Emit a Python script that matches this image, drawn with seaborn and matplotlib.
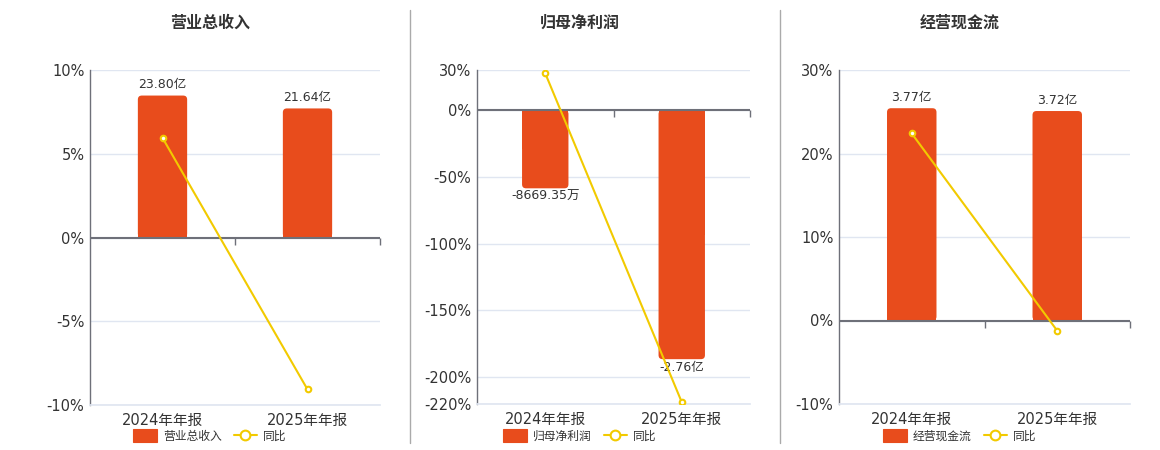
import matplotlib
matplotlib.use('Agg')
import matplotlib.pyplot as plt
import seaborn as sns
from matplotlib.patches import FancyBboxPatch, Patch
from matplotlib.lines import Line2D

periods = ['2024年年报', '2025年年报']

# 单位: 亿元 / 同比 %
revenue = [23.80, 21.64]
revenue_yoy = [5.95, -9.07]
revenue_text = ['23.80亿', '21.64亿']

profit = [-0.866935, -2.76]
profit_yoy = [27.5, -218.6]
profit_text = ['-8669.35万', '-2.76亿']

cashflow = [3.77, 3.72]
cashflow_yoy = [22.4, -1.23]
cashflow_text = ['3.77亿', '3.72亿']

titles = ['营业总收入', '归母净利润', '经营现金流']
yoy_ticks = [
    [-10, -5, 0, 5, 10],
    [-220, -200, -150, -100, -50, 0, 30],
    [-10, 0, 10, 20, 30],
]

BAR_RED = '#E84C1C'
LINE_YELLOW = '#F2CA00'
GRID = '#E0E6F1'
AXIS = '#6E7079'
TEXT = '#333333'
HEADROOM = 1.18

sns.set_theme(style='white')
plt.rcParams['font.family'] = ['DejaVu Sans', 'Noto Sans CJK SC']

fig = plt.figure(figsize=(11.6, 4.5), dpi=100)
W, H = 1160, 450

# axes rectangles in pixels: left, right, top, bottom
boxes = [(90, 380, 70, 405), (477, 750, 70, 404), (839, 1130, 70, 404)]
centers = [210, 580, 960]

panels = [
    (revenue, revenue_yoy, revenue_text),
    (profit, profit_yoy, profit_text),
    (cashflow, cashflow_yoy, cashflow_text),
]

for i, ((vals, yoy, texts), (l, r, t, b)) in enumerate(zip(panels, boxes)):
    ax = fig.add_axes([l / W, 1 - b / H, (r - l) / W, (b - t) / H])
    ticks = yoy_ticks[i]
    lo, hi = min(ticks), max(ticks)
    ax.set_ylim(lo, hi)
    ax.set_yticks(ticks)
    ax.set_yticklabels([f'{v}%' for v in ticks])
    ax.yaxis.grid(True, color=GRID, linewidth=1)
    ax.set_axisbelow(True)
    for s in ['top', 'right']:
        ax.spines[s].set_visible(False)
    ax.spines['left'].set_color(AXIS)
    ax.spines['left'].set_linewidth(1)
    ax.spines['bottom'].set_color(GRID)
    ax.tick_params(axis='both', length=0, labelsize=10.5, colors=TEXT)
    ax.tick_params(axis='y', pad=4)
    ax.tick_params(axis='x', pad=6)

    # bar axis: zero aligned with 0%, largest bar at HEADROOM share of the range side
    ax2 = ax.twinx()
    m = max(abs(v) for v in vals) * HEADROOM
    scale = m / hi if max(vals) > 0 else m / -lo
    sns.barplot(x=periods, y=vals, ax=ax2, color=BAR_RED, width=0.34,
                saturation=1, linewidth=0)
    ax2.set_ylim(lo * scale, hi * scale)
    for rect, txt in zip(ax2.containers[0], texts):
        v = rect.get_y() + rect.get_height()
        up = rect.get_height() > 0
        ax2.annotate(txt, (rect.get_x() + rect.get_width() / 2, v),
                     xytext=(0, 3 if up else -1), textcoords='offset points',
                     ha='center', va='bottom' if up else 'top',
                     fontsize=9, color=TEXT)
    ax2.set_xlim(-0.5, len(periods) - 0.5)
    ax2.axis('off')

    # rounded corners on the outer end of each bar
    xpp = len(periods) / (r - l)
    ypp = (hi - lo) * scale / (b - t)
    rad = 4 * xpp
    for rect in list(ax2.patches):
        x0, y0, w, h = rect.get_x(), rect.get_y(), rect.get_width(), rect.get_height()
        ylo = min(y0, y0 + h)
        fb = FancyBboxPatch((x0, ylo), w, abs(h),
                            boxstyle=f'round,pad=0,rounding_size={rad}',
                            mutation_aspect=ypp / xpp,
                            facecolor=BAR_RED, edgecolor='none')
        ax2.add_patch(fb)
        rect.set_height(h / 2)

    # line axis
    ax3 = ax.twinx()
    ax3.axhline(0, color=AXIS, linewidth=1.5, zorder=1)
    ax3.plot([0.5, 1.5], [0, 0], linestyle='none', marker=3, markersize=5,
             color=AXIS, markeredgewidth=1, clip_on=False)
    sns.pointplot(x=periods, y=yoy, ax=ax3, color=LINE_YELLOW, markers='o',
                  linestyles='-', linewidth=1.5, markersize=4,
                  markeredgewidth=1.5)
    for ln in ax3.lines:
        if ln.get_marker() == 'o':
            ln.set_markerfacecolor('white')
            ln.set_zorder(5)
    ax3.set_ylim(lo, hi)
    ax3.set_xlim(-0.5, len(periods) - 0.5)
    ax3.axis('off')

    ax.set_xlim(-0.5, len(periods) - 0.5)
    ax.set_xticks(range(len(periods)))
    ax.set_xticklabels(periods)

    fig.text(centers[i] / W, 1 - 23 / H, titles[i], ha='center', va='center',
             fontsize=11.5, fontweight='bold', color=TEXT)

    handles = [
        Patch(facecolor=BAR_RED, edgecolor=BAR_RED, linewidth=0.8,
              joinstyle='round', label=titles[i]),
        Line2D([0], [0], color=LINE_YELLOW, linewidth=1.5, marker='o',
               markersize=7, markerfacecolor='white', markeredgewidth=1.5,
               label='同比'),
    ]
    fig.legend(handles=handles, loc='center', ncol=2, frameon=False,
               bbox_to_anchor=(centers[i] / W, 1 - 436 / H), fontsize=8.5,
               handlelength=2.0, handleheight=1.2, handletextpad=0.5,
               columnspacing=1.0, labelcolor=TEXT)

for xs in [410, 780]:
    fig.add_artist(Line2D([xs / W, xs / W], [1 - 443 / H, 1 - 10 / H],
                          color='#AAAAAA', linewidth=1))

fig.savefig('out.png', dpi=100)
